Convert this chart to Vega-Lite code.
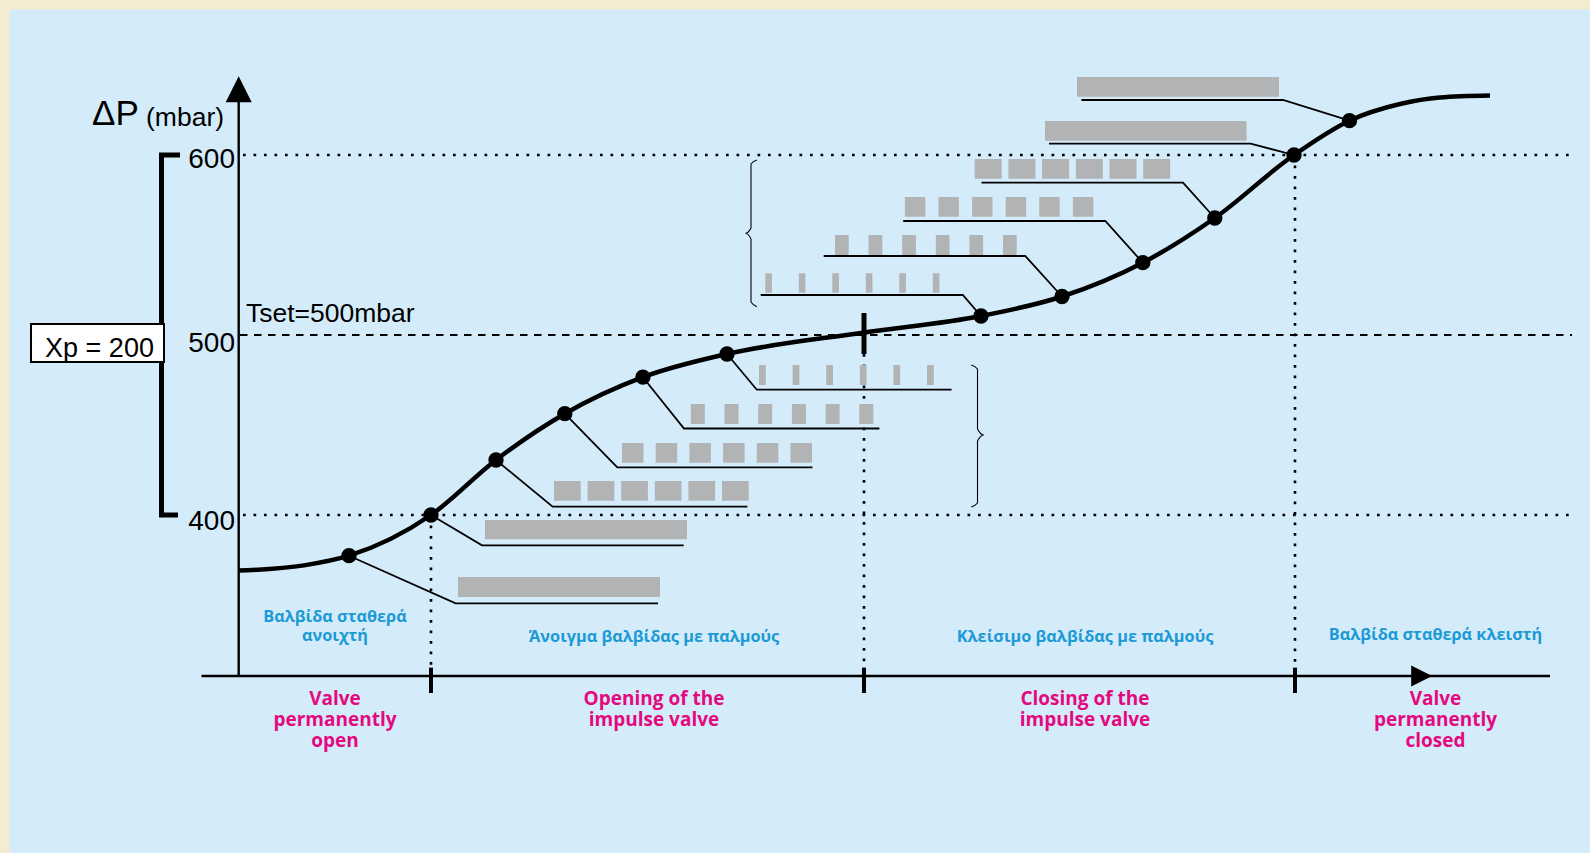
{
  "$schema": "https://vega.github.io/schema/vega-lite/v6.json",
  "width": 1590,
  "height": 853,
  "autosize": {"type": "fit", "contains": "padding"},
  "padding": 0,
  "background": "#f5ebd1",
  "config": {"view": {"stroke": null}},
  "datasets": {
    "panel": [{"x": 9.5, "x2": 1590, "y": 680.83, "y2": 212.2222}],
    "dotted": [
      {"x": 243, "x2": 1570, "y": 600, "y2": 600},
      {"x": 243, "x2": 1570, "y": 400, "y2": 400},
      {"x": 431, "x2": 431, "y": 400, "y2": 315.5},
      {"x": 864, "x2": 864, "y": 489.4, "y2": 315.5},
      {"x": 1295, "x2": 1295, "y": 600, "y2": 315.5}
    ],
    "dashed": [{"x": 240, "x2": 1572, "y": 500, "y2": 500}],
    "bars": [
      {"x": 458, "x2": 660, "y": 365.56, "y2": 354.44},
      {"x": 485, "x2": 687, "y": 397.22, "y2": 386.5},
      {"x": 554, "x2": 580.7, "y": 418.89, "y2": 407.94},
      {"x": 587.6, "x2": 614.3, "y": 418.89, "y2": 407.94},
      {"x": 621.2, "x2": 647.9, "y": 418.89, "y2": 407.94},
      {"x": 654.8, "x2": 681.5, "y": 418.89, "y2": 407.94},
      {"x": 688.4, "x2": 715.1, "y": 418.89, "y2": 407.94},
      {"x": 722, "x2": 748.7, "y": 418.89, "y2": 407.94},
      {"x": 622, "x2": 643.5, "y": 440, "y2": 429.06},
      {"x": 655.7, "x2": 677.2, "y": 440, "y2": 429.06},
      {"x": 689.4, "x2": 710.9, "y": 440, "y2": 429.06},
      {"x": 723.1, "x2": 744.6, "y": 440, "y2": 429.06},
      {"x": 756.8, "x2": 778.3, "y": 440, "y2": 429.06},
      {"x": 790.5, "x2": 812, "y": 440, "y2": 429.06},
      {"x": 690.8, "x2": 704.8, "y": 461.67, "y2": 450.56},
      {"x": 724.5, "x2": 738.5, "y": 461.67, "y2": 450.56},
      {"x": 758.2, "x2": 772.2, "y": 461.67, "y2": 450.56},
      {"x": 791.9, "x2": 805.9, "y": 461.67, "y2": 450.56},
      {"x": 825.6, "x2": 839.6, "y": 461.67, "y2": 450.56},
      {"x": 859.3, "x2": 873.3, "y": 461.67, "y2": 450.56},
      {"x": 759, "x2": 765.8, "y": 483.33, "y2": 472.22},
      {"x": 792.6, "x2": 799.4, "y": 483.33, "y2": 472.22},
      {"x": 826.2, "x2": 833, "y": 483.33, "y2": 472.22},
      {"x": 859.8, "x2": 866.6, "y": 483.33, "y2": 472.22},
      {"x": 893.4, "x2": 900.2, "y": 483.33, "y2": 472.22},
      {"x": 927, "x2": 933.8, "y": 483.33, "y2": 472.22},
      {"x": 765.3, "x2": 771.9, "y": 534.28, "y2": 523.5},
      {"x": 798.8, "x2": 805.4, "y": 534.28, "y2": 523.5},
      {"x": 832.3, "x2": 838.9, "y": 534.28, "y2": 523.5},
      {"x": 865.8, "x2": 872.4, "y": 534.28, "y2": 523.5},
      {"x": 899.3, "x2": 905.9, "y": 534.28, "y2": 523.5},
      {"x": 932.8, "x2": 939.4, "y": 534.28, "y2": 523.5},
      {"x": 835, "x2": 848.7, "y": 555.56, "y2": 544.44},
      {"x": 868.6, "x2": 882.3, "y": 555.56, "y2": 544.44},
      {"x": 902.2, "x2": 915.9, "y": 555.56, "y2": 544.44},
      {"x": 935.8, "x2": 949.5, "y": 555.56, "y2": 544.44},
      {"x": 969.4, "x2": 983.1, "y": 555.56, "y2": 544.44},
      {"x": 1003, "x2": 1016.7, "y": 555.56, "y2": 544.44},
      {"x": 904.9, "x2": 925.3, "y": 576.67, "y2": 565.72},
      {"x": 938.5, "x2": 958.9, "y": 576.67, "y2": 565.72},
      {"x": 972.1, "x2": 992.5, "y": 576.67, "y2": 565.72},
      {"x": 1005.7, "x2": 1026.1, "y": 576.67, "y2": 565.72},
      {"x": 1039.3, "x2": 1059.7, "y": 576.67, "y2": 565.72},
      {"x": 1072.9, "x2": 1093.3, "y": 576.67, "y2": 565.72},
      {"x": 974.7, "x2": 1001.7, "y": 597.78, "y2": 586.83},
      {"x": 1008.4, "x2": 1035.4, "y": 597.78, "y2": 586.83},
      {"x": 1042.1, "x2": 1069.1, "y": 597.78, "y2": 586.83},
      {"x": 1075.8, "x2": 1102.8, "y": 597.78, "y2": 586.83},
      {"x": 1109.5, "x2": 1136.5, "y": 597.78, "y2": 586.83},
      {"x": 1143.2, "x2": 1170.2, "y": 597.78, "y2": 586.83},
      {"x": 1045, "x2": 1246.6, "y": 618.89, "y2": 607.94},
      {"x": 1077, "x2": 1279, "y": 643.33, "y2": 632.39}
    ],
    "leaders": [
      {"g": 1, "o": 1, "x": 349, "y": 377.39}, {"g": 1, "o": 2, "x": 455.6, "y": 350.94}, {"g": 1, "o": 3, "x": 658, "y": 350.94},
      {"g": 2, "o": 1, "x": 431, "y": 400}, {"g": 2, "o": 2, "x": 482, "y": 383.17}, {"g": 2, "o": 3, "x": 683.7, "y": 383.17},
      {"g": 3, "o": 1, "x": 496, "y": 430.56}, {"g": 3, "o": 2, "x": 552.6, "y": 404.61}, {"g": 3, "o": 3, "x": 747.4, "y": 404.61},
      {"g": 4, "o": 1, "x": 564.8, "y": 456.28}, {"g": 4, "o": 2, "x": 617.3, "y": 426.5}, {"g": 4, "o": 3, "x": 812.4, "y": 426.5},
      {"g": 5, "o": 1, "x": 642.9, "y": 476.56}, {"g": 5, "o": 2, "x": 684, "y": 448.06}, {"g": 5, "o": 3, "x": 879.4, "y": 448.06},
      {"g": 6, "o": 1, "x": 727, "y": 489.44}, {"g": 6, "o": 2, "x": 756.8, "y": 469.61}, {"g": 6, "o": 3, "x": 951.5, "y": 469.61},
      {"g": 7, "o": 1, "x": 981, "y": 510.56}, {"g": 7, "o": 2, "x": 962.8, "y": 522.22}, {"g": 7, "o": 3, "x": 760.7, "y": 522.22},
      {"g": 8, "o": 1, "x": 1062, "y": 521.39}, {"g": 8, "o": 2, "x": 1025.2, "y": 543.89}, {"g": 8, "o": 3, "x": 823.7, "y": 543.89},
      {"g": 9, "o": 1, "x": 1142.8, "y": 540.17}, {"g": 9, "o": 2, "x": 1105.3, "y": 563.33}, {"g": 9, "o": 3, "x": 903.2, "y": 563.33},
      {"g": 10, "o": 1, "x": 1214.8, "y": 565}, {"g": 10, "o": 2, "x": 1183, "y": 584.61}, {"g": 10, "o": 3, "x": 981.5, "y": 584.61},
      {"g": 11, "o": 1, "x": 1294, "y": 600}, {"g": 11, "o": 2, "x": 1250.6, "y": 606.28}, {"g": 11, "o": 3, "x": 1049, "y": 606.28},
      {"g": 12, "o": 1, "x": 1349.5, "y": 619.06}, {"g": 12, "o": 2, "x": 1283, "y": 630.56}, {"g": 12, "o": 3, "x": 1081.4, "y": 630.56}
    ],
    "braces": [
      {"g": "open", "o": 1, "x": 971.3, "y": 483.33}, {"g": "open", "o": 2, "x": 977.5, "y": 481.11}, {"g": "open", "o": 3, "x": 977.5, "y": 447.78},
      {"g": "open", "o": 4, "x": 983.8, "y": 444.44}, {"g": "open", "o": 5, "x": 977.5, "y": 441.11}, {"g": "open", "o": 6, "x": 977.5, "y": 406.67},
      {"g": "open", "o": 7, "x": 971.3, "y": 404.44},
      {"g": "close", "o": 1, "x": 756.8, "y": 597.22}, {"g": "close", "o": 2, "x": 751, "y": 595}, {"g": "close", "o": 3, "x": 751, "y": 559.44},
      {"g": "close", "o": 4, "x": 745.4, "y": 556.5}, {"g": "close", "o": 5, "x": 751, "y": 553.33}, {"g": "close", "o": 6, "x": 751, "y": 518.33},
      {"g": "close", "o": 7, "x": 756.8, "y": 515.72}
    ],
    "curve": [
      {"x": 239, "y": 369.1}, {"x": 304, "y": 372.0}, {"x": 349, "y": 377.39}, {"x": 431, "y": 400},
      {"x": 496, "y": 430.56}, {"x": 564.8, "y": 456.28}, {"x": 642.9, "y": 476.56}, {"x": 727, "y": 489.44},
      {"x": 863, "y": 501.3}, {"x": 981, "y": 510.56}, {"x": 1062, "y": 521.39}, {"x": 1142.8, "y": 540.17},
      {"x": 1214.8, "y": 565}, {"x": 1294, "y": 600}, {"x": 1349.5, "y": 619.06}, {"x": 1400, "y": 628.3},
      {"x": 1440, "y": 631.9}, {"x": 1490, "y": 633.0}
    ],
    "dots": [
      {"x": 349, "y": 377.39}, {"x": 431, "y": 400}, {"x": 496, "y": 430.56}, {"x": 564.8, "y": 456.28},
      {"x": 642.9, "y": 476.56}, {"x": 727, "y": 489.44}, {"x": 981, "y": 510.56}, {"x": 1062, "y": 521.39},
      {"x": 1142.8, "y": 540.17}, {"x": 1214.8, "y": 565}, {"x": 1294, "y": 600}, {"x": 1349.5, "y": 619.06}
    ],
    "axisLines": [
      {"x": 238.7, "x2": 238.7, "y": 310.56, "y2": 632},
      {"x": 201.5, "x2": 1550, "y": 310.56, "y2": 310.56}
    ],
    "xticks": [
      {"x": 431, "x2": 431, "y": 315.2, "y2": 301.1},
      {"x": 864, "x2": 864, "y": 315.2, "y2": 301.1},
      {"x": 1295, "x2": 1295, "y": 315.2, "y2": 301.1}
    ],
    "setTick": [{"x": 864, "x2": 864, "y": 512.22, "y2": 489.44}],
    "bracket": [
      {"o": 1, "x": 180, "y": 600}, {"o": 2, "x": 161.5, "y": 600},
      {"o": 3, "x": 161.5, "y": 400}, {"o": 4, "x": 178, "y": 400}
    ],
    "arrowUp": [{"x": 238.7, "y": 636.56}],
    "arrowRight": [{"x": 1421.7, "y": 310.56}],
    "xpBox": [{"x": 31, "x2": 164, "y": 506.11, "y2": 485}],
    "tickLabels": [
      {"x": 235, "y": 592.6, "t": "600"},
      {"x": 235, "y": 490.56, "t": "500"},
      {"x": 235, "y": 391.67, "t": "400"}
    ],
    "tset": [{"x": 246, "y": 507.39, "t": "Tset=500mbar"}],
    "xpText": [{"x": 99.5, "y": 487.94, "t": "Xp = 200"}],
    "dp": [{"x": 92, "y": 616.67, "t": "ΔP"}],
    "mbar": [{"x": 146, "y": 616.1, "t": "(mbar)"}],
    "greek": [
      {"x": 335, "y": 340.72, "t": "Βαλβίδα σταθερά\nανοιχτή"},
      {"x": 654, "y": 329.72, "t": "Άνοιγμα βαλβίδας με παλμούς"},
      {"x": 1085, "y": 329.17, "t": "Κλείσιμο βαλβίδας με παλμούς"},
      {"x": 1435.5, "y": 330.56, "t": "Βαλβίδα σταθερά κλειστή"}
    ],
    "english": [
      {"x": 335, "y": 294.28, "t": "Valve\npermanently\nopen"},
      {"x": 654, "y": 294.28, "t": "Opening of the\nimpulse valve"},
      {"x": 1085, "y": 294.28, "t": "Closing of the\nimpulse valve"},
      {"x": 1435.5, "y": 294.28, "t": "Valve\npermanently\nclosed"}
    ]
  },
  "encoding": {
    "x": {"field": "x", "type": "quantitative", "scale": {"domain": [0, 1590], "nice": false, "zero": false}, "axis": null},
    "y": {"field": "y", "type": "quantitative", "scale": {"domain": [212.2222, 686.1111], "nice": false, "zero": false}, "axis": null}
  },
  "layer": [
    {"data": {"name": "panel"}, "mark": {"type": "rect", "color": "#d4ebf9"},
     "encoding": {"x2": {"field": "x2"}, "y2": {"field": "y2"}}},
    {"data": {"name": "dotted"}, "mark": {"type": "rule", "color": "#000000", "strokeWidth": 2.6, "strokeDash": [2.7, 7.8]},
     "encoding": {"x2": {"field": "x2"}, "y2": {"field": "y2"}}},
    {"data": {"name": "dashed"}, "mark": {"type": "rule", "color": "#000000", "strokeWidth": 2, "strokeDash": [7.5, 6.5]},
     "encoding": {"x2": {"field": "x2"}, "y2": {"field": "y2"}}},
    {"data": {"name": "bars"}, "mark": {"type": "rect", "color": "#b2b3b4"},
     "encoding": {"x2": {"field": "x2"}, "y2": {"field": "y2"}}},
    {"data": {"name": "leaders"}, "mark": {"type": "line", "color": "#000000", "strokeWidth": 1.8},
     "encoding": {"detail": {"field": "g", "type": "nominal"}, "order": {"field": "o", "type": "quantitative"}}},
    {"data": {"name": "braces"}, "mark": {"type": "line", "color": "#000000", "strokeWidth": 1.1, "interpolate": "monotone"},
     "encoding": {"detail": {"field": "g", "type": "nominal"}, "order": {"field": "o", "type": "quantitative"}}},
    {"data": {"name": "curve"}, "mark": {"type": "line", "color": "#000000", "strokeWidth": 4.5, "interpolate": "monotone"},
     "encoding": {}},
    {"data": {"name": "dots"}, "mark": {"type": "point", "shape": "circle", "filled": true, "color": "#000000", "opacity": 1, "size": 235},
     "encoding": {}},
    {"data": {"name": "axisLines"}, "mark": {"type": "rule", "color": "#000000", "strokeWidth": 2.4},
     "encoding": {"x2": {"field": "x2"}, "y2": {"field": "y2"}}},
    {"data": {"name": "xticks"}, "mark": {"type": "rule", "color": "#000000", "strokeWidth": 4},
     "encoding": {"x2": {"field": "x2"}, "y2": {"field": "y2"}}},
    {"data": {"name": "setTick"}, "mark": {"type": "rule", "color": "#000000", "strokeWidth": 5},
     "encoding": {"x2": {"field": "x2"}, "y2": {"field": "y2"}}},
    {"data": {"name": "bracket"}, "mark": {"type": "line", "color": "#000000", "strokeWidth": 5, "strokeJoin": "miter"},
     "encoding": {"order": {"field": "o", "type": "quantitative"}}},
    {"data": {"name": "arrowUp"}, "mark": {"type": "point", "shape": "M0,-1L-1,1L1,1Z", "filled": true, "color": "#000000", "opacity": 1, "size": 676},
     "encoding": {}},
    {"data": {"name": "arrowRight"}, "mark": {"type": "point", "shape": "M1,0L-1,-1L-1,1Z", "filled": true, "color": "#000000", "opacity": 1, "size": 441},
     "encoding": {}},
    {"data": {"name": "xpBox"}, "mark": {"type": "rect", "fill": "#ffffff", "stroke": "#000000", "strokeWidth": 2},
     "encoding": {"x2": {"field": "x2"}, "y2": {"field": "y2"}}},
    {"data": {"name": "tickLabels"}, "mark": {"type": "text", "align": "right", "baseline": "alphabetic", "font": "Liberation Sans", "fontSize": 28, "color": "#000000"},
     "encoding": {"text": {"field": "t"}}},
    {"data": {"name": "tset"}, "mark": {"type": "text", "align": "left", "baseline": "alphabetic", "font": "Liberation Sans", "fontSize": 26.5, "color": "#000000"},
     "encoding": {"text": {"field": "t"}}},
    {"data": {"name": "xpText"}, "mark": {"type": "text", "align": "center", "baseline": "alphabetic", "font": "Liberation Sans", "fontSize": 27, "color": "#000000"},
     "encoding": {"text": {"field": "t"}}},
    {"data": {"name": "dp"}, "mark": {"type": "text", "align": "left", "baseline": "alphabetic", "font": "Liberation Sans", "fontSize": 35, "color": "#000000"},
     "encoding": {"text": {"field": "t"}}},
    {"data": {"name": "mbar"}, "mark": {"type": "text", "align": "left", "baseline": "alphabetic", "font": "Liberation Sans", "fontSize": 26.5, "color": "#000000"},
     "encoding": {"text": {"field": "t"}}},
    {"data": {"name": "greek"}, "mark": {"type": "text", "align": "center", "baseline": "alphabetic", "lineBreak": "\n", "lineHeight": 19.5, "font": "Open Sans", "fontWeight": "bold", "fontSize": 16.3, "color": "#1b9ad6"},
     "encoding": {"text": {"field": "t"}}},
    {"data": {"name": "english"}, "mark": {"type": "text", "align": "center", "baseline": "alphabetic", "lineBreak": "\n", "lineHeight": 20.7, "font": "Open Sans", "fontWeight": "bold", "fontSize": 19, "color": "#e4097f"},
     "encoding": {"text": {"field": "t"}}}
  ]
}
